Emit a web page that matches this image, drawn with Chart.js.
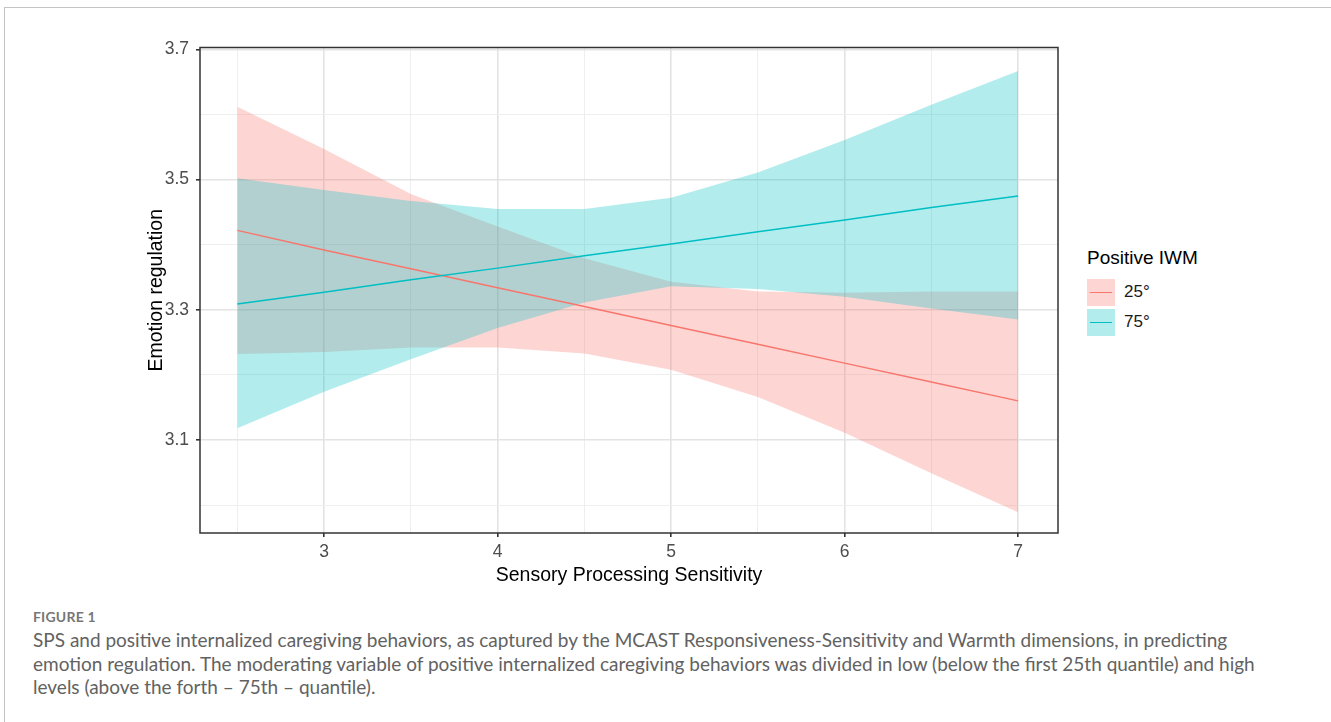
<!DOCTYPE html>
<html>
<head>
<meta charset="utf-8">
<script src="https://cdn.jsdelivr.net/npm/chart.js@4.4.1/dist/chart.umd.min.js"></script>
<style>
    body { margin: 0; background: #fff; width: 1331px; height: 722px; overflow: hidden; position: relative; font-family: "Liberation Sans", Arial, sans-serif; }
    .frame { position: absolute; left: 4px; top: 7px; width: 1340px; height: 730px; border-top: 1px solid #c4c4c4; border-left: 1px solid #c4c4c4; }
    #wrap { position: absolute; left: 130px; top: 30px; width: 940px; height: 570px; }
    .legend { position: absolute; left: 1087px; top: 246px; color: #000; }
    .legend-title { font-size: 19px; line-height: 24px; margin-bottom: 7px; }
    .key { display: flex; align-items: center; height: 30px; }
    .swatch { position: relative; width: 28px; height: 27px; margin-right: 9px; }
    .swatch i { position: absolute; left: 3px; right: 3px; top: 13px; height: 1.5px; }
    .key span { font-size: 17px; color: #1a1a1a; }
    .caption { position: absolute; left: 33px; top: 606px; font-family: Lato, "Open Sans", sans-serif; color: #626262; }
    .fig { font-size: 14px; font-weight: bold; color: #777; letter-spacing: 0.2px; line-height: 22px; }
    .text { font-size: 19px; line-height: 23.5px; }
</style>
</head>
<body>
<div class="frame"></div>
<div id="wrap"><canvas id="chart"></canvas></div>
<div class="legend">
    <div class="legend-title">Positive IWM</div>
    <div class="key"><div class="swatch" style="background:rgba(248,118,109,0.3)"><i style="background:#F8766D"></i></div><span>25°</span></div>
    <div class="key"><div class="swatch" style="background:rgba(0,191,196,0.3)"><i style="background:#00BFC4"></i></div><span>75°</span></div>
</div>
<div class="caption">
    <div class="fig">FIGURE 1</div>
    <div class="text">SPS and positive internalized caregiving behaviors, as captured by the MCAST Responsiveness-Sensitivity and Warmth dimensions, in predicting<br>
    emotion regulation. The moderating variable of positive internalized caregiving behaviors was divided in low (below the first 25th quantile) and high<br>
    levels (above the forth &#8211; 75th &#8211; quantile).</div>
</div>

<script>
// ── Data ─────────────────────────────────────────────────────────────────────
const sps       = [2.5, 3, 3.5, 4, 4.5, 5, 5.5, 6, 6.5, 7];
const lowFit    = [3.422, 3.392, 3.363, 3.334, 3.305, 3.276, 3.247, 3.218, 3.189, 3.160];
const lowUpper  = [3.612, 3.547, 3.478, 3.428, 3.379, 3.343, 3.328, 3.326, 3.328, 3.328];
const lowLower  = [3.232, 3.235, 3.242, 3.242, 3.233, 3.208, 3.166, 3.111, 3.049, 2.989];
const highFit   = [3.309, 3.327, 3.346, 3.364, 3.383, 3.401, 3.420, 3.438, 3.457, 3.475];
const highUpper = [3.502, 3.484, 3.467, 3.455, 3.455, 3.472, 3.511, 3.561, 3.615, 3.667];
const highLower = [3.118, 3.174, 3.224, 3.272, 3.311, 3.336, 3.332, 3.320, 3.302, 3.285];
const yLabels   = [3.1, 3.3, 3.5, 3.7];
const xLabels   = [3, 4, 5, 6, 7];

const RED  = '#F8766D';
const TEAL = '#00BFC4';

const pts = arr => arr.map((v, i) => ({ x: sps[i], y: v }));
const near = (v, list) => list.some(t => Math.abs(t - v) < 1e-6);

// ribbon edge dataset: no line, no points
function edge(arr, fill, color, order) {
    return {
        data: pts(arr), fill: fill, backgroundColor: color,
        borderWidth: 0, pointRadius: 0, order: order, tension: 0,
    };
}

// panel border like theme_bw
const panelBorder = {
    id: 'panelBorder',
    afterDraw(chart) {
        const { ctx, chartArea: a } = chart;
        ctx.save();
        ctx.strokeStyle = '#333';
        ctx.lineWidth = 1.5;
        ctx.strokeRect(a.left, a.top, a.right - a.left, a.bottom - a.top);
        ctx.restore();
    }
};

const AXIS_FONT = '"Liberation Sans", Arial';

new Chart(document.getElementById('chart'), {
    type: 'line',
    data: {
        datasets: [
            edge(lowUpper,  { target: 1 }, 'rgba(248,118,109,0.3)', 6),
            edge(lowLower,  false, 'transparent', 6),
            edge(highUpper, { target: 3 }, 'rgba(0,191,196,0.3)', 5),
            edge(highLower, false, 'transparent', 5),
            { data: pts(lowFit),  borderColor: RED,  borderWidth: 1.5, pointRadius: 0, fill: false, order: 2 },
            { data: pts(highFit), borderColor: TEAL, borderWidth: 1.5, pointRadius: 0, fill: false, order: 1 },
        ],
    },
    options: {
        responsive: true,
        maintainAspectRatio: false,
        animation: false,
        layout: { padding: { top: 17, right: 12, left: 0, bottom: 0 } },
        plugins: { legend: { display: false }, tooltip: { enabled: false } },
        scales: {
            x: {
                type: 'linear', min: 2.285, max: 7.23,
                afterFit: s => { s.height = 67; },
                border: { display: false },
                grid: {
                    color: c => near(c.tick.value, xLabels) ? '#e3e3e3' : '#eeeeee',
                    lineWidth: c => near(c.tick.value, xLabels) ? 1.6 : 1,
                    tickColor: c => near(c.tick.value, xLabels) ? '#333' : 'transparent',
                    tickLength: 4,
                },
                ticks: {
                    stepSize: 0.5, includeBounds: false, maxRotation: 0, autoSkip: false,
                    padding: 5, color: '#4d4d4d',
                    font: { family: AXIS_FONT, size: 17.5 },
                    callback: v => near(v, xLabels) ? String(Math.round(v)) : '',
                },
                title: {
                    display: true, text: 'Sensory Processing Sensitivity', color: '#000',
                    font: { family: AXIS_FONT, size: 19.5 }, padding: { top: 0, bottom: 13 },
                },
            },
            y: {
                type: 'linear', min: 2.957, max: 3.703,
                afterFit: s => { s.width = 70; },
                border: { display: false },
                grid: {
                    color: c => near(c.tick.value, yLabels) ? '#e3e3e3' : '#eeeeee',
                    lineWidth: c => near(c.tick.value, yLabels) ? 1.6 : 1,
                    tickColor: c => near(c.tick.value, yLabels) ? '#333' : 'transparent',
                    tickLength: 4,
                },
                ticks: {
                    stepSize: 0.1, includeBounds: false, autoSkip: false,
                    padding: 7, color: '#4d4d4d',
                    font: { family: AXIS_FONT, size: 17.5 },
                    callback: v => near(v, yLabels) ? v.toFixed(1) : '',
                },
                title: {
                    display: true, text: 'Emotion regulation', color: '#000',
                    font: { family: AXIS_FONT, size: 19.5 }, padding: { top: 15, bottom: 4 },
                },
            },
        },
    },
    plugins: [panelBorder],
});
</script>
</body>
</html>
